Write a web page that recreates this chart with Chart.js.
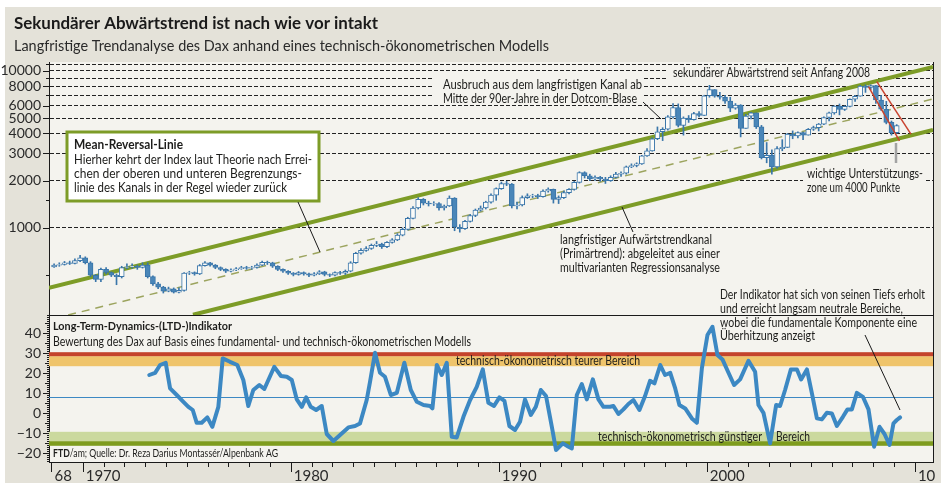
<!DOCTYPE html>
<html lang="de">
<head>
<meta charset="utf-8">
<title>Dax – Trendkanal und LTD-Indikator</title>
<script src="https://cdn.jsdelivr.net/npm/chart.js@4.4.1/dist/chart.umd.min.js"></script>
<style>
  html, body { margin: 0; padding: 0; background: #fff; }
  #chart { display: block; }
</style>
</head>
<body>
<canvas id="chart" width="941" height="488"></canvas>
<script>
/* ====================
   DATA
==================== */
// quarterly Dax candles, first one is Q3 1968; open = close of the quarter before
const firstQuarter = 1968.5;
const firstOpen = 565;
const closes = [
  580, 585,
  600, 595, 620, 645,   600, 500, 470, 545,   520, 500, 490, 560,   565, 570, 560, 580,
  490, 440, 420, 395,   410, 390, 400, 515,   520, 510, 575, 600,   580, 560, 545, 530,
  540, 550, 560, 555,   560, 580, 605, 600,   570, 545, 530, 515,   505, 520, 510, 500,
  510, 525, 505, 500,   520, 515, 530, 600,   690, 720, 740, 775,   790, 760, 810, 840,
  900, 980, 1150, 1340, 1520, 1440, 1420, 1430, 1340, 1380, 1550, 1010, 990, 1100, 1200, 1300,
  1340, 1460, 1620, 1780, 1920, 1900, 1380, 1400, 1560, 1600, 1610, 1580, 1720, 1760, 1520, 1560,
  1680, 1760, 1950, 2250, 2150, 2050, 2100, 2050, 2000, 2100, 2200, 2230, 2450, 2500, 2560, 2880,
  3100, 3700, 4100, 4250, 5100, 5850, 4500, 5000, 4900, 5350, 5200, 6950, 7600, 6900, 6800, 6430,
  5800, 6050, 4300, 5160, 5400, 4400, 2800, 2900, 2450, 3200, 3260, 3960, 3850, 4050, 3900, 4250,
  4350, 4580, 5050, 5400, 5970, 5680, 5950, 6600, 6900, 8000, 7860, 8070, 6530, 5700, 4700, 4050,
  4480
];
const highs = [
  590, 600,
  612, 615, 635, 670,   655, 610, 505, 556,   560, 525, 510, 570,   590, 590, 580, 600,
  600, 495, 450, 425,   420, 415, 415, 520,   530, 525, 585, 610,   605, 585, 565, 550,
  550, 560, 570, 570,   570, 590, 615, 615,   605, 575, 550, 535,   520, 528, 525, 515,
  520, 535, 530, 510,   525, 530, 540, 610,   700, 740, 760, 790,   820, 800, 820, 855,
  920, 1000, 1170, 1370, 1560, 1540, 1480, 1470, 1450, 1400, 1600, 1560, 1050, 1120, 1220, 1320,
  1380, 1480, 1650, 1800, 1960, 1980, 1920, 1460, 1600, 1650, 1640, 1640, 1750, 1800, 1770, 1600,
  1720, 1780, 1980, 2280, 2280, 2200, 2150, 2130, 2100, 2150, 2260, 2280, 2480, 2560, 2600, 2900,
  3200, 3750, 4400, 4350, 5200, 6200, 6170, 5100, 5200, 5450, 5500, 7000, 8100, 7600, 7300, 7000,
  6800, 6200, 6100, 5300, 5450, 5400, 4500, 3500, 3150, 3300, 3650, 4000, 4150, 4100, 4080, 4300,
  4450, 4630, 5100, 5460, 6000, 6160, 6000, 6650, 7000, 8100, 8150, 8150, 8100, 7000, 6400, 4800,
  4550
];
const lows = [
  560, 570,
  580, 585, 590, 610,   590, 490, 455, 455,   510, 490, 435, 480,   550, 555, 545, 555,
  480, 430, 410, 385,   392, 385, 385, 395,   505, 500, 505, 570,   570, 550, 535, 520,
  525, 535, 545, 545,   545, 555, 575, 585,   560, 535, 520, 505,   495, 500, 500, 490,
  495, 505, 495, 490,   495, 505, 505, 525,   595, 680, 710, 730,   760, 740, 750, 800,
  830, 890, 970, 1140,  1320, 1400, 1380, 1390, 1300, 1300, 1370, 960, 940, 980, 1090, 1180,
  1280, 1320, 1440, 1500, 1760, 1860, 1340, 1320, 1380, 1540, 1560, 1540, 1570, 1690, 1440, 1430,
  1540, 1650, 1740, 1930, 2080, 2000, 2010, 1980, 1920, 1980, 2080, 2130, 2200, 2420, 2450, 2540,
  2850, 3080, 3650, 3600, 4200, 5000, 4400, 3900, 4700, 4850, 5100, 5200, 6800, 6800, 6600, 6200,
  5500, 5700, 3800, 4300, 4950, 4300, 2750, 2600, 2200, 2400, 3100, 3250, 3700, 3750, 3650, 3900,
  4180, 4150, 4550, 4800, 5300, 5250, 5600, 5900, 6400, 6900, 7300, 7600, 6200, 5600, 4600, 3900,
  4000
];

// trend channel (log scale): upper and lower bound, mean-reversal line
const upperYears = [1968.38, 2010.87];
const upperValues = [415, 10590];
const meanYears = [1969.3, 2010.87];
const meanValues = [279, 6630];
const lowerYears = [1975.3, 2010.87];
const lowerValues = [280, 4210];
// secondary down trend since 2008
const redAYears = [2007.77, 2009.26];
const redAValues = [7940, 3580];
const redBYears = [2008.17, 2009.81];
const redBValues = [8540, 3960];

// LTD indicator
const ltdYears = [
  1973.20, 1973.48, 1973.72, 1973.99, 1974.20, 1974.52, 1974.84, 1975.08, 1975.29, 1975.48,
  1975.72, 1975.99, 1976.23, 1976.52, 1976.73, 1977.08, 1977.43, 1977.72, 1977.96, 1978.20,
  1978.49, 1978.73, 1979.21, 1979.53, 1979.81, 1980.05, 1980.29, 1980.53, 1980.74, 1980.96,
  1981.22, 1981.49, 1981.73, 1982.05, 1982.37, 1982.77, 1983.09, 1983.33, 1983.65, 1983.81,
  1984.05, 1984.29, 1984.53, 1984.81, 1985.10, 1985.46, 1985.77, 1986.06, 1986.38, 1986.70,
  1986.81, 1987.02, 1987.26, 1987.50, 1987.74, 1987.98, 1988.30, 1988.62, 1988.94, 1989.23,
  1989.50, 1989.77, 1990.03, 1990.27, 1990.51, 1990.78, 1991.02, 1991.26, 1991.54, 1991.78,
  1992.02, 1992.27, 1992.55, 1992.75, 1993.08, 1993.35, 1993.51, 1993.75, 1993.99, 1994.23,
  1994.52, 1994.79, 1995.03, 1995.35, 1995.51, 1995.75, 1995.99, 1996.23, 1996.47, 1996.76,
  1997.03, 1997.27, 1997.48, 1997.76, 1997.99, 1998.24, 1998.48, 1998.68, 1998.96, 1999.28,
  1999.52, 1999.76, 2000.03, 2000.27, 2000.51, 2000.75, 2001.04, 2001.31, 2001.60, 2002.00,
  2002.32, 2002.48, 2002.72, 2003.04, 2003.33, 2003.52, 2003.76, 2004.04, 2004.33, 2004.53,
  2004.81, 2005.05, 2005.29, 2005.53, 2005.77, 2006.01, 2006.25, 2006.54, 2006.76, 2006.97,
  2007.21, 2007.50, 2007.77, 2008.04, 2008.30, 2008.54, 2008.78, 2008.97, 2009.13, 2009.29
];
const ltdValues = [
  19.2, 20.3, 24.2, 25.3, 12.5, 9.2, 5.8, 3.3, 1.7, -4.7,
  -4.7, -2.0, -6.7, 3.3, 27.5, 25.8, 24.2, 16.7, 3.7, 11.7,
  14.2, 12.2, 23.3, 18.7, 18.3, 16.7, 7.0, 3.3, 8.0, 3.3,
  1.7, 3.7, -10.3, -13.8, -10.8, -7.0, -6.3, -5.0, 6.7, 15.8,
  30.3, 20.3, 18.3, 9.2, 10.3, 25.3, 11.7, 5.8, 4.2, 3.7,
  2.5, 24.2, 19.2, 25.3, -11.7, -12.0, -1.7, 6.7, 13.3, 22.0,
  5.3, 3.7, 8.0, 6.3, -6.3, -8.3, -4.2, 7.0, -0.8, 3.3,
  11.7, 8.7, -6.7, -18.3, -15.0, -16.7, -17.5, 9.2, 14.7, 7.0,
  17.0, 7.0, 3.3, 3.3, 3.7, -0.3, 2.0, 4.7, 6.7, 1.7,
  8.7, 16.3, 15.0, 24.2, 19.2, 20.3, 12.5, 4.2, 2.5, -2.5,
  -4.7, 22.5, 39.2, 43.3, 29.2, 27.0, 20.3, 14.2, 17.0, 26.3,
  20.8, 4.2, 0.3, -15.0, 4.2, 3.7, 11.7, 22.0, 22.0, 17.0,
  22.0, 10.0, -2.5, -3.0, 0.3, 0.0, -6.3, -1.7, 2.0, 2.0,
  10.3, 8.3, 2.0, -16.7, -6.7, -10.3, -15.8, -5.0, -3.3, -2.0
];
// zones of the indicator
const expensiveZone = [23.6, 28.6];
const expensiveEdge = [28.6, 30.6];
const cheapZone = [-13.9, -9.2];
const cheapEdge = [-16.2, -13.9];
const neutralLevel = 8;

// axes
const priceGrid = [1000, 2000, 3000, 4000, 5000, 6000, 7000, 8000, 9000, 10000, 11000];
const priceLabels = [1000, 2000, 3000, 4000, 5000, 6000, 8000, 10000];
const priceMinor = [500, 1500];
const ltdTicks = [-20, -10, 0, 10, 20, 30, 40];
const yearTickValues = [1968.5, 1970, 1980, 1990, 2000, 2010];
const yearTickLabels = ['68', '1970', '1980', '1990', '2000', '10'];

/* ====================
   STYLE
==================== */
const FONT = 'Lato, "Open Sans", sans-serif';
const INK = '#1d1d1b';
const AXIS = '#1a1a1a';
const BEIGE = '#e4e2d9';
const PLOT_BG = '#f4f3ee';
const CANDLE = '#4a86b8';
const CANDLE_EDGE = '#3a76aa';
const GREEN = '#7d9c27';
const LTD_BLUE = '#3c88c3';

Chart.defaults.font.family = FONT;

/* ====================
   HELPERS
==================== */
// draws one line of text; if width is given the line is squeezed to that width
function text(ctx, str, x, y, size, weight = '400', width = 0, color = INK) {
  ctx.save();
  ctx.font = `${weight} ${size}px ${FONT}`;
  ctx.fillStyle = color;
  ctx.textAlign = 'left';
  ctx.textBaseline = 'middle';
  ctx.translate(x, y);
  if (width) ctx.scale(width / ctx.measureText(str).width, 1);
  ctx.fillText(str, 0, 0);
  ctx.restore();
}

function stroke(ctx, pts, color, width = 1) {
  ctx.beginPath();
  ctx.moveTo(pts[0], pts[1]);
  ctx.lineTo(pts[2], pts[3]);
  ctx.strokeStyle = color;
  ctx.lineWidth = width;
  ctx.stroke();
}

const toPoints = (xs, ys) => xs.map((x, i) => ({ x, y: ys[i] }));

const candleX = closes.map((_, i) => firstQuarter + 0.125 + i * 0.25);
const opens = closes.map((c, i) => (i === 0 ? firstOpen : closes[i - 1]));

/* ====================
   PLUGINS
==================== */
const backdrop = {
  id: 'backdrop',
  beforeDraw(chart) {
    const { ctx, chartArea: a } = chart;
    ctx.save();
    ctx.fillStyle = '#fff';
    ctx.fillRect(0, 0, chart.width, chart.height);
    ctx.fillStyle = BEIGE;
    ctx.fillRect(5, 7, chart.width - 5, 476);
    ctx.fillStyle = PLOT_BG;
    ctx.fillRect(a.left, a.top, a.right - a.left, a.bottom - a.top);
    text(ctx, 'Sekundärer Abwärtstrend ist nach wie vor intakt', 14, 24, 17, '700', 364, '#1a1a1a');
    text(ctx, 'Langfristige Trendanalyse des Dax anhand eines technisch-ökonometrischen Modells', 14, 46, 15, '400', 535, '#2a2a2a');
    ctx.restore();
  }
};

const zones = {
  id: 'zones',
  beforeDatasetsDraw(chart) {
    const { ctx, chartArea: a, scales: { yBot } } = chart;
    ctx.save();
    const band = (range, color) => {
      const y1 = yBot.getPixelForValue(range[1]);
      const y2 = yBot.getPixelForValue(range[0]);
      ctx.fillStyle = color;
      ctx.fillRect(a.left, y1, a.right - a.left, y2 - y1);
    };
    band(expensiveZone, '#efc46b');
    band(expensiveEdge, '#c4432c');
    band(cheapZone, '#cbd99e');
    band(cheapEdge, '#7e9c1e');
    const yn = Math.round(yBot.getPixelForValue(neutralLevel)) + 0.5;
    stroke(ctx, [a.left, yn, a.right, yn], LTD_BLUE, 1);

    text(ctx, 'Long-Term-Dynamics-(LTD-)Indikator', 53, 326, 12, '700', 179);
    text(ctx, 'Bewertung des Dax auf Basis eines fundamental- und technisch-ökonometrischen Modells', 53, 342, 12.5, '400', 418);
    text(ctx, 'technisch-ökonometrisch teurer Bereich', 456, 361, 12.5, '400', 184);
    text(ctx, 'technisch-ökonometrisch günstiger', 598, 437, 12.5, '400', 164);
    text(ctx, 'Bereich', 776, 437, 12.5, '400', 34);

    // source line: bold "FTD", rest regular, squeezed together to the measured width
    ctx.font = `700 11px ${FONT}`;
    const w1 = ctx.measureText('FTD').width;
    ctx.font = `400 11px ${FONT}`;
    const rest = '/am; Quelle: Dr. Reza Darius Montassér/Alpenbank AG';
    const w2 = ctx.measureText(rest).width;
    const k = 225 / (w1 + w2);
    text(ctx, 'FTD', 53, 453, 11, '700', w1 * k);
    text(ctx, rest, 53 + w1 * k, 453, 11, '400', w2 * k);
    ctx.restore();
  }
};

const notes = {
  id: 'notes',
  afterDatasetsDraw(chart) {
    const { ctx, chartArea: a, scales: { yTop } } = chart;
    ctx.save();

    // frame: panel divider and right edge
    const yd = Math.round(yTop.bottom) + 0.5;
    stroke(ctx, [a.left, yd, a.right, yd], AXIS, 1);
    const xr = Math.round(a.right) + 0.5;
    stroke(ctx, [xr, a.top, xr, a.bottom], AXIS, 1);

    // Mean-Reversal box
    ctx.fillStyle = '#fff';
    ctx.fillRect(67, 132, 252, 69);
    ctx.strokeStyle = GREEN;
    ctx.lineWidth = 3;
    ctx.strokeRect(67, 132, 252, 69);
    text(ctx, 'Mean-Reversal-Linie', 74, 145, 12.5, '700', 109);
    text(ctx, 'Hierher kehrt der Index laut Theorie nach Errei-', 74, 160, 12.5, '400', 238);
    text(ctx, 'chen der oberen und unteren Begrenzungs-', 74, 174, 12.5, '400', 228);
    text(ctx, 'linie des Kanals in der Regel wieder zurück', 74, 188, 12.5, '400', 213);
    stroke(ctx, [298, 202, 320, 252], AXIS, 1);

    // breakout note
    ctx.fillStyle = PLOT_BG;
    ctx.fillRect(433, 75, 211, 30);
    text(ctx, 'Ausbruch aus dem langfristigen Kanal ab', 443, 85, 12.5, '400', 199);
    text(ctx, 'Mitte der 90er-Jahre in der Dotcom-Blase', 443, 99, 12.5, '400', 194);
    stroke(ctx, [643, 102, 661, 119], AXIS, 1);

    // secondary trend note
    ctx.fillStyle = PLOT_BG;
    ctx.fillRect(668, 66, 210, 13);
    text(ctx, 'sekundärer Abwärtstrend seit Anfang 2008', 673, 73, 12.5, '400', 197);

    // support zone note
    ctx.fillStyle = PLOT_BG;
    ctx.fillRect(803, 166, 122, 30);
    text(ctx, 'wichtige Unterstützungs-', 807, 174, 12.5, '400', 116);
    text(ctx, 'zone um 4000 Punkte', 807, 188, 12.5, '400', 93);
    stroke(ctx, [896, 143, 896, 163], '#a3a3a3', 2.5);

    // primary trend note
    text(ctx, 'langfristiger Aufwärtstrendkanal', 560, 240, 12.5, '400', 152);
    text(ctx, '(Primärtrend): abgeleitet aus einer', 560, 254, 12.5, '400', 160);
    text(ctx, 'multivarianten Regressionsanalyse', 560, 268, 12.5, '400', 160);
    stroke(ctx, [633, 232, 622, 207], AXIS, 1);

    // indicator note
    text(ctx, 'Der Indikator hat sich von seinen Tiefs erholt', 720, 295, 12.5, '400', 205);
    text(ctx, 'und erreicht langsam neutrale Bereiche,', 720, 308.5, 12.5, '400', 183);
    text(ctx, 'wobei die fundamentale Komponente eine', 720, 322.5, 12.5, '400', 197);
    text(ctx, 'Überhitzung anzeigt', 720, 335.5, 12.5, '400', 95);
    stroke(ctx, [865, 335, 900, 410], AXIS, 1);

    ctx.restore();
  }
};

const axisTicks = {
  id: 'axisTicks',
  afterDraw(chart) {
    const { ctx, chartArea: a, scales: { x, yTop, yBot } } = chart;
    ctx.save();
    ctx.strokeStyle = AXIS;
    ctx.lineWidth = 1;
    ctx.beginPath();
    const years = [];
    for (let yr = 1970; yr <= 2010; yr++) years.push(yr);
    [...years, 1968.5].forEach(yr => {
      const px = Math.round(x.getPixelForValue(yr)) + 0.5;
      const len = yearTickValues.includes(yr) ? 10 : 5;
      ctx.moveTo(px, a.bottom);
      ctx.lineTo(px, a.bottom + len);
    });
    [...priceGrid, ...priceMinor].forEach(v => {
      const py = Math.round(yTop.getPixelForValue(v)) + 0.5;
      const len = priceLabels.includes(v) ? 6 : 3;
      ctx.moveTo(a.left - len, py);
      ctx.lineTo(a.left, py);
    });
    for (let v = -24; v <= 49; v++) {
      const py = Math.round(yBot.getPixelForValue(v)) + 0.5;
      const len = v % 10 === 0 ? 6 : v % 5 === 0 ? 4 : 2;
      ctx.moveTo(a.left - len, py);
      ctx.lineTo(a.left, py);
    }
    ctx.stroke();
    ctx.restore();
  }
};

/* ====================
   CHART
==================== */
const lineStyle = { pointRadius: 0, fill: false, tension: 0, yAxisID: 'yTop' };

new Chart(document.getElementById('chart'), {
  type: 'line',
  data: {
    datasets: [
      {
        ...lineStyle, label: 'Kanal oben', order: 5,
        data: toPoints(upperYears, upperValues), borderColor: GREEN, borderWidth: 4
      },
      {
        ...lineStyle, label: 'Mean-Reversal-Linie', order: 5,
        data: toPoints(meanYears, meanValues), borderColor: '#9ca45e', borderWidth: 1.5, borderDash: [8, 6]
      },
      {
        ...lineStyle, label: 'Kanal unten', order: 5,
        data: toPoints(lowerYears, lowerValues), borderColor: GREEN, borderWidth: 4
      },
      {
        type: 'bar', label: 'Dax Spanne', yAxisID: 'yTop', order: 4, grouped: false,
        data: candleX.map((x, i) => ({ x, y: [lows[i], highs[i]] })),
        barThickness: 1, backgroundColor: CANDLE_EDGE, borderWidth: 0
      },
      {
        type: 'bar', label: 'Dax', yAxisID: 'yTop', order: 3, grouped: false,
        data: candleX.map((x, i) => ({ x, y: [opens[i], closes[i]] })),
        barThickness: 5,
        backgroundColor: c => (c.dataIndex !== undefined && closes[c.dataIndex] < opens[c.dataIndex] ? CANDLE : '#fbfbf8'),
        borderColor: CANDLE_EDGE, borderWidth: 1, borderSkipped: false
      },
      {
        ...lineStyle, label: 'Abwärtstrend A', order: 2,
        data: toPoints(redAYears, redAValues), borderColor: '#c9432f', borderWidth: 1.5
      },
      {
        ...lineStyle, label: 'Abwärtstrend B', order: 2,
        data: toPoints(redBYears, redBValues), borderColor: '#c9432f', borderWidth: 1.5
      },
      {
        label: 'LTD-Indikator', yAxisID: 'yBot', order: 1,
        data: toPoints(ltdYears, ltdValues),
        borderColor: LTD_BLUE, borderWidth: 4, pointRadius: 0, tension: 0,
        borderJoinStyle: 'round', borderCapStyle: 'round', fill: false
      }
    ]
  },
  options: {
    responsive: false,
    animation: false,
    devicePixelRatio: 1,
    layout: { padding: { top: 62, right: 8, bottom: 0, left: 0 } },
    plugins: { legend: { display: false }, tooltip: { enabled: false } },
    scales: {
      x: {
        type: 'linear', min: 1968.38, max: 2010.87, offset: false,
        grid: { display: false, offset: false, drawTicks: false },
        border: { display: true, color: AXIS, width: 1 },
        afterBuildTicks: s => { s.ticks = yearTickValues.map(v => ({ value: v })); },
        afterFit: s => { s.height = 26; },
        ticks: {
          autoSkip: false, maxRotation: 0, align: 'start', labelOffset: 3, padding: 5,
          color: '#2a2a2a', font: { size: 15 },
          callback: v => {
            const i = yearTickValues.indexOf(v);
            return i < 0 ? '' : yearTickLabels[i];
          }
        }
      },
      yBot: {
        type: 'linear', position: 'left', stack: 'panels', stackWeight: 147,
        min: -24.3, max: 49.2,
        afterBuildTicks: s => { s.ticks = ltdTicks.map(v => ({ value: v })); },
        afterFit: s => { s.width = 49; },
        grid: { display: false, drawTicks: false },
        border: { display: true, color: AXIS, width: 1 },
        ticks: {
          padding: 8, color: '#2a2a2a', font: { size: 14 }, autoSkip: false,
          callback: v => String(v).replace('-', '\u2212')
        }
      },
      yTop: {
        type: 'logarithmic', position: 'left', stack: 'panels', stackWeight: 253,
        min: 279, max: 11400,
        afterBuildTicks: s => { s.ticks = priceGrid.map(v => ({ value: v })); },
        afterFit: s => { s.width = 49; },
        grid: { color: '#222', lineWidth: 1, drawTicks: false },
        border: { display: true, color: AXIS, width: 1, dash: [4, 2] },
        ticks: {
          padding: 8, color: '#2a2a2a', font: { size: 14 }, autoSkip: false,
          callback: v => (priceLabels.includes(v) ? String(v) : '')
        }
      }
    }
  },
  plugins: [backdrop, zones, notes, axisTicks]
});
</script>
</body>
</html>
